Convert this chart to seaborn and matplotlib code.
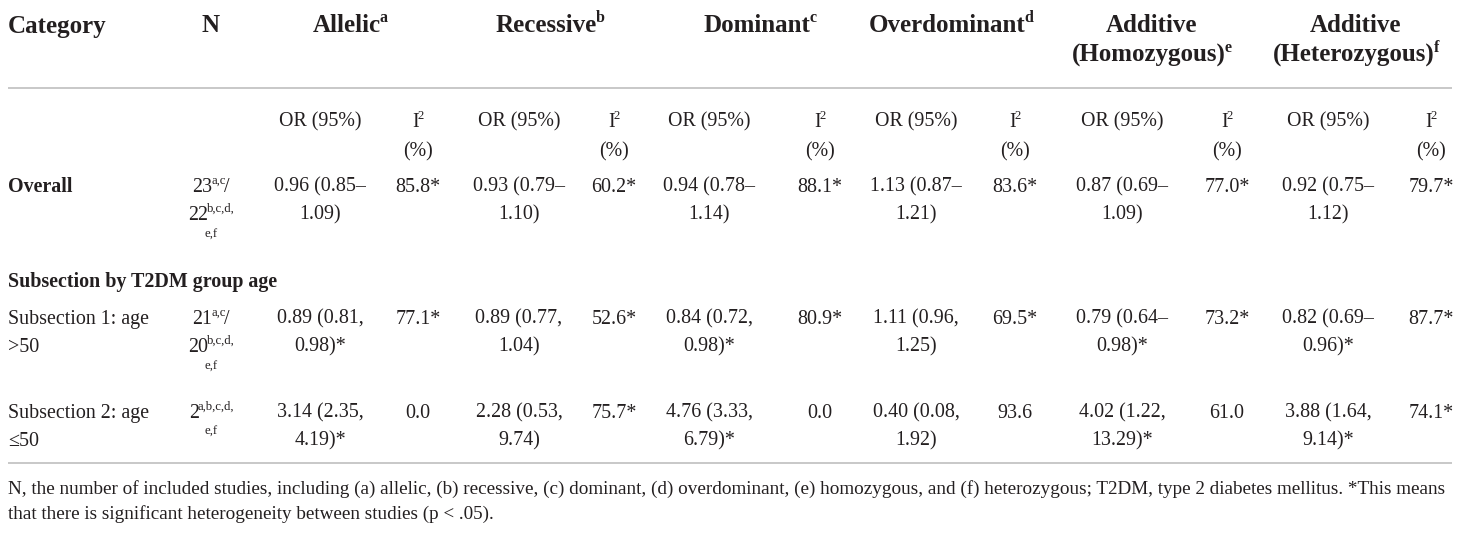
import matplotlib
matplotlib.use("Agg")
import matplotlib.pyplot as plt
import seaborn as sns

# ---------------- data ----------------
model_names = ["Allelic", "Recessive", "Dominant", "Overdominant",
               "Additive\n(Homozygous)", "Additive\n(Heterozygous)"]
model_marks = ["a", "b", "c", "d", "e", "f"]
or_header = "OR (95%)"
i2_header = ["I", "2", "(%)"]
row_names = [["Overall"], ["Subsection 1: age", ">50"], ["Subsection 2: age", "\u226450"]]
row_bold = [True, False, False]
section_title = "Subsection by T2DM group age"
n_first = ["23", "21", "2"]
n_first_marks = ["a,c", "a,c", "a,b,c,d,"]
n_first_tail = ["/", "/", ""]
n_second = ["22", "20", ""]
n_second_marks = ["b,c,d,", "b,c,d,", ""]
n_tail_marks = ["e,f", "e,f", "e,f"]

or_est = [[0.96, 0.93, 0.94, 1.13, 0.87, 0.92],
          [0.89, 0.89, 0.84, 1.11, 0.79, 0.82],
          [3.14, 2.28, 4.76, 0.40, 4.02, 3.88]]
or_lo = [[0.85, 0.79, 0.78, 0.87, 0.69, 0.75],
         [0.81, 0.77, 0.72, 0.96, 0.64, 0.69],
         [2.35, 0.53, 3.33, 0.08, 1.22, 1.64]]
or_hi = [[1.09, 1.10, 1.14, 1.21, 1.09, 1.12],
         [0.98, 1.04, 0.98, 1.25, 0.98, 0.96],
         [4.19, 9.74, 6.79, 1.92, 13.29, 9.14]]
or_sig = [[0, 0, 0, 0, 0, 0],
          [1, 0, 1, 0, 1, 1],
          [1, 0, 1, 0, 1, 1]]
ci_sep = [["\u2013"] * 6,
          [",", ",", ",", ",", "\u2013", "\u2013"],
          [","] * 6]
i2_vals = [[85.8, 60.2, 88.1, 83.6, 77.0, 79.7],
           [77.1, 52.6, 80.9, 69.5, 73.2, 87.7],
           [0.0, 75.7, 0.0, 93.6, 61.0, 74.1]]
i2_sig = [[1, 1, 1, 1, 1, 1],
          [1, 1, 1, 1, 1, 1],
          [0, 1, 0, 0, 0, 1]]
footnote = ["N, the number of included studies, including (a) allelic, (b) recessive, (c) dominant, "
            "(d) overdominant, (e) homozygous, and (f) heterozygous; T2DM, type 2 diabetes mellitus. *This means",
            "that there is significant heterogeneity between studies (p < .05)."]

# ---------------- style ----------------
sns.set_theme(style="white")
plt.rcParams["font.family"] = ["Liberation Serif", "DejaVu Serif"]

INK = "#231f20"
RULE = "#c4c4c4"
W, H = 1460, 538
fig = plt.figure(figsize=(W / 100, H / 100), dpi=100)
ax = fig.add_axes([0, 0, 1, 1])
ax.set_xlim(0, W)
ax.set_ylim(H, 0)
ax.axis("off")
renderer = fig.canvas.get_renderer()

PX = 0.72  # points per pixel at dpi 100
BODY = 20
HEAD = 25
FOOT = 18.5
SUPF = 0.64


def put(x, yc, s, size, ha="center", bold=False):
    return ax.text(x, yc + 0.34 * size, s, fontsize=size * PX, ha=ha, va="baseline",
                   color=INK, fontweight="bold" if bold else "normal")


def put_rich(x, yc, pieces, size, ha="center", bold=False):
    """pieces: list of (text, is_superscript)"""
    base = yc + 0.34 * size
    objs = []
    for txt, sup in pieces:
        fs = size * (SUPF if sup else 1.0)
        y = base - (0.40 * size if sup else 0.0)
        t = ax.text(0, y, txt, fontsize=fs * PX, ha="left", va="baseline",
                    color=INK, fontweight="bold" if bold else "normal")
        objs.append(t)
    widths = [t.get_window_extent(renderer).width for t in objs]
    gap = -0.06 * size
    total = sum(widths) + gap * (len(objs) - 1)
    x0 = x - total / 2 if ha == "center" else x
    for t, w in zip(objs, widths):
        t.set_x(x0)
        x0 += w + gap
    return objs


# column geometry
x_cat = 8
x_n = 211
x_or = [320, 519, 709, 916, 1122, 1328]
x_i2 = [418, 614, 820, 1015, 1227, 1431]
x_head = [350, 550, 760, 951, 1152, 1356]
LS = 28

# header
put(x_cat, 24, "Category", HEAD, ha="left", bold=True)
put(x_n, 24, "N", HEAD, bold=True)
for j, (name, mark) in enumerate(zip(model_names, model_marks)):
    lines = name.split("\n")
    for k, ln in enumerate(lines):
        if k == len(lines) - 1:
            put_rich(x_head[j], 24 + k * 29, [(ln, False), (mark, True)], HEAD, bold=True)
        else:
            put(x_head[j], 24 + k * 29, ln, HEAD, bold=True)

ax.plot([8, 1452], [88, 88], color=RULE, lw=1.3, solid_capstyle="butt")

for j in range(6):
    put(x_or[j], 120, or_header, BODY)
    put_rich(x_i2[j], 120, [(i2_header[0], False), (i2_header[1], True)], BODY)
    put(x_i2[j], 150, i2_header[2], BODY)

row_y = [185, 317, 411]
put(x_cat, 280, section_title, BODY, ha="left", bold=True)

for i in range(3):
    y0 = row_y[i]
    for k, ln in enumerate(row_names[i]):
        put(x_cat, y0 + k * LS, ln, BODY, ha="left", bold=row_bold[i])
    # N column
    put_rich(x_n, y0, [(n_first[i], False), (n_first_marks[i], True), (n_first_tail[i], False)], BODY)
    if n_second[i]:
        put_rich(x_n, y0 + LS, [(n_second[i], False), (n_second_marks[i], True)], BODY)
        put(x_n, y0 + 2 * LS - 8, n_tail_marks[i], BODY * SUPF)
    else:
        put(x_n, y0 + LS - 9, n_tail_marks[i], BODY * SUPF)
    for j in range(6):
        l1 = "%.2f (%.2f%s" % (or_est[i][j], or_lo[i][j], ci_sep[i][j])
        l2 = "%.2f)%s" % (or_hi[i][j], "*" if or_sig[i][j] else "")
        put(x_or[j], y0, l1, BODY)
        put(x_or[j], y0 + LS, l2, BODY)
        put(x_i2[j], y0, "%.1f%s" % (i2_vals[i][j], "*" if i2_sig[i][j] else ""), BODY)

ax.plot([8, 1452], [463, 463], color=RULE, lw=1.3, solid_capstyle="butt")

t1 = put(x_cat, 488, footnote[0], FOOT, ha="left")
t2 = put(x_cat, 513, footnote[1], FOOT, ha="left")
bb = t1.get_window_extent(renderer)
scale = 1437.0 / bb.width
for t in (t1, t2):
    t.set_fontsize(t.get_fontsize() * scale)

fig.savefig("out.png", dpi=100)
